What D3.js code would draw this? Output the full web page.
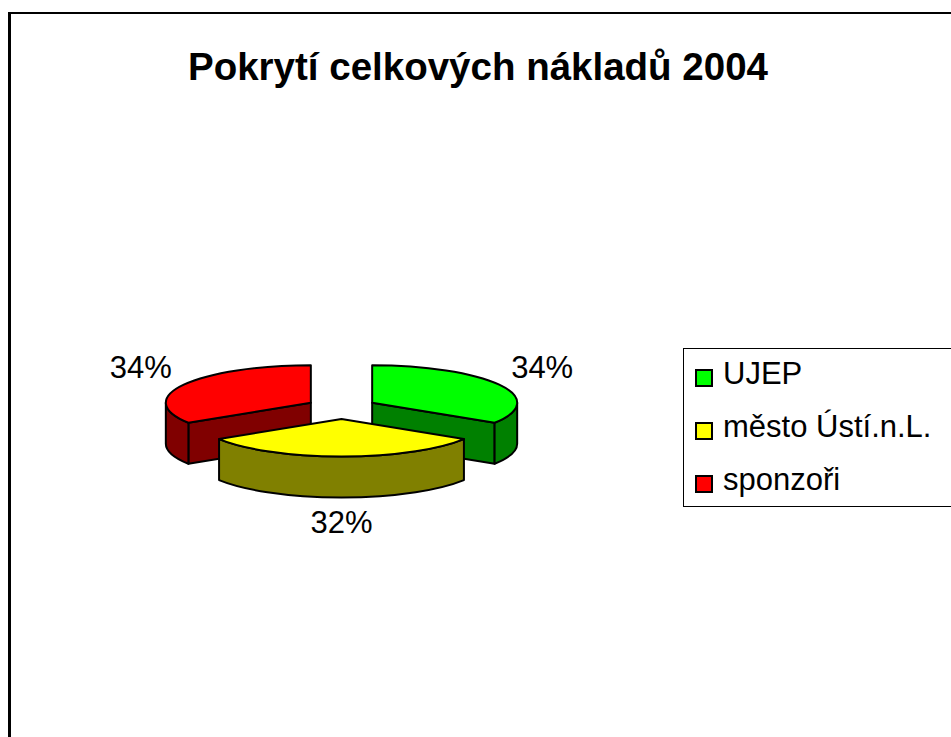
<!DOCTYPE html>
<html lang="cs">
<meta charset="utf-8">

<head>
    <style>
        body {
            margin: 0;
            background: #fff;
            font-family: "Liberation Sans", Arial, sans-serif;
        }
    </style>
    <script src="https://d3js.org/d3.v7.min.js"></script>
</head>

<body>

</body>
<script>
    // chart data
    var categories = ["UJEP", "město Ústí.n.L.", "sponzoři"];
    var shares = [34, 32, 34];
    var labels = ["34%", "32%", "34%"];
    var topColours = ["#00ff00", "#ffff00", "#ff0000"];
    var sideColours = ["#008000", "#808000", "#800000"];

    // layout
    var svgWidth = 951;
    var svgHeight = 737;
    var cx = 341.5, cy = 408; // centre of the top ellipse
    var rx = 145, ry = 37.5;  // flattened pie radii
    var depth = 41;           // thickness of the pie
    var explodeX = 35, explodeY = 11;
    var labelRx = 229, labelRy = 86, labelDrop = 28;

    var svg = d3.select("body")
        .append("svg")
        .attr("width", svgWidth)
        .attr("height", svgHeight);

    // frame (right and bottom edges run off the page)
    svg.append("line")
        .attr("x1", 9.5).attr("y1", 12).attr("x2", 9.5).attr("y2", svgHeight)
        .attr("stroke", "#000").attr("stroke-width", 3);
    svg.append("line")
        .attr("x1", 8).attr("y1", 13).attr("x2", svgWidth).attr("y2", 13)
        .attr("stroke", "#000").attr("stroke-width", 2);

    svg.append("text")
        .attr("x", 478)
        .attr("y", 80)
        .attr("text-anchor", "middle")
        .attr("font-size", 38.5)
        .attr("font-weight", "bold")
        .text("Pokrytí celkových nákladů 2004");

    // unit circle -> flattened ellipse
    var xScale = d3.scaleLinear().domain([-1, 1]).range([cx - rx, cx + rx]);
    var yScale = d3.scaleLinear().domain([-1, 1]).range([cy - ry, cy + ry]);

    var pie = d3.pie().sort(null).value(function (d) { return d; });
    var slices = pie(shares).map(function (d, i) {
        var mid = (d.startAngle + d.endAngle) / 2;
        d.i = i;
        d.mid = mid;
        d.ox = explodeX * Math.sin(mid);
        d.oy = -explodeY * Math.cos(mid);
        return d;
    });

    function pt(d, a, r, drop) {
        return [xScale(Math.sin(a) * r) + d.ox, yScale(-Math.cos(a) * r) + d.oy + drop];
    }
    function arcTo(p, sweep, large) {
        return "A" + rx + "," + ry + " 0 " + (large ? 1 : 0) + "," + sweep + " " + p[0] + "," + p[1];
    }

    function topPath(d) {
        var c = pt(d, 0, 0, 0), p0 = pt(d, d.startAngle, 1, 0), p1 = pt(d, d.endAngle, 1, 0);
        return "M" + c + "L" + p0 + arcTo(p1, 1, d.endAngle - d.startAngle > Math.PI) + "Z";
    }
    function cutPath(d, a) {
        var c = pt(d, 0, 0, 0), p = pt(d, a, 1, 0), pb = pt(d, a, 1, depth), cb = pt(d, 0, 0, depth);
        return "M" + c + "L" + p + "L" + pb + "L" + cb + "Z";
    }
    function rimPath(d) {
        var s = Math.max(d.startAngle, Math.PI / 2), e = Math.min(d.endAngle, Math.PI * 1.5);
        if (e <= s) return null;
        var t0 = pt(d, s, 1, 0), t1 = pt(d, e, 1, 0), b1 = pt(d, e, 1, depth), b0 = pt(d, s, 1, depth);
        return "M" + t0 + arcTo(t1, 1, false) + "L" + b1 + arcTo(b0, 0, false) + "Z";
    }

    // draw back slices first
    var order = slices.slice().sort(function (a, b) { return a.oy - b.oy; });

    var g = svg.append("g")
        .attr("stroke", "#000")
        .attr("stroke-width", 2)
        .attr("stroke-linejoin", "round");

    order.forEach(function (d) {
        var sg = g.append("g");
        if (Math.sin(d.startAngle) < -1e-6) {
            sg.append("path").attr("d", cutPath(d, d.startAngle)).attr("fill", sideColours[d.i]);
        }
        if (Math.sin(d.endAngle) > 1e-6) {
            sg.append("path").attr("d", cutPath(d, d.endAngle)).attr("fill", sideColours[d.i]);
        }
        var rim = rimPath(d);
        if (rim) sg.append("path").attr("d", rim).attr("fill", sideColours[d.i]);
        sg.append("path").attr("d", topPath(d)).attr("fill", topColours[d.i]);
    });

    // percentage labels
    svg.selectAll("text.pct")
        .data(slices)
        .enter()
        .append("text")
        .attr("class", "pct")
        .attr("x", function (d) { return cx + labelRx * Math.sin(d.mid); })
        .attr("y", function (d) {
            var c = Math.cos(d.mid);
            return cy - labelRy * c + (c < 0 ? labelDrop * -c : 0);
        })
        .attr("dy", "0.36em")
        .attr("text-anchor", "middle")
        .attr("font-size", 31)
        .text(function (d) { return labels[d.i]; });

    // legend
    var legend = svg.append("g");
    legend.append("rect")
        .attr("x", 683.5).attr("y", 348.5)
        .attr("width", 300).attr("height", 158)
        .attr("fill", "none")
        .attr("stroke", "#000")
        .attr("stroke-width", 1);

    var rowY = d3.scalePoint().domain(categories).range([378, 484]);
    var rows = legend.selectAll("g.row")
        .data(categories)
        .enter()
        .append("g")
        .attr("class", "row")
        .attr("transform", function (d) { return "translate(0," + rowY(d) + ")"; });
    rows.append("rect")
        .attr("x", 696).attr("y", -8)
        .attr("width", 16).attr("height", 16)
        .attr("fill", function (d, i) { return topColours[i]; })
        .attr("stroke", "#000")
        .attr("stroke-width", 2);
    rows.append("text")
        .attr("x", 723)
        .attr("y", 6)
        .attr("font-size", 31)
        .text(function (d) { return d; });
</script>

</html>
